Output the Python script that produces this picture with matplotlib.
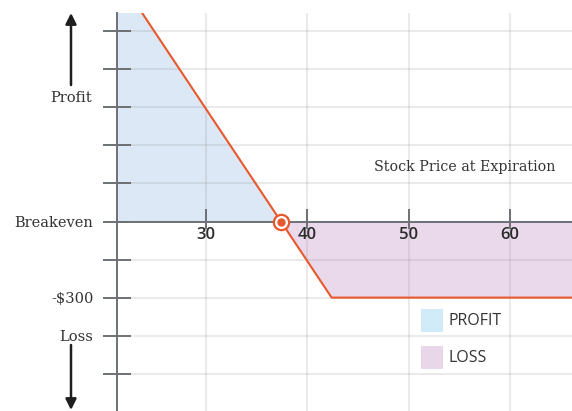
import matplotlib
matplotlib.use("Agg")
import matplotlib.pyplot as plt
from matplotlib.patches import Rectangle

# Long put payoff at expiration
price = [21.2, 37.4, 42.4, 66.2]          # stock price at expiration
pnl = [972, 0, -300, -300]                # profit / loss in dollars
breakeven = 37.4
max_loss = -300

x_ticks = [30, 40, 50, 60]
y_ticks = [-600, -450, -300, -150, 0, 150, 300, 450, 600, 750]
y_labels = {0: "Breakeven", -300: "-$300", -450: "Loss"}

line_color = "#e8582d"
profit_fill = "#dce8f5"
loss_fill = "#ead9eb"
legend_profit = "#d2ebf9"
legend_loss = "#e8d6e9"
axis_color = "#6d7074"
serif = "DejaVu Serif"

W, H = 572, 411
fig = plt.figure(figsize=(W / 100, H / 100), dpi=100)
ax = fig.add_axes([117 / W, 0, 1 - 117 / W, 1 - 13 / H])
ax.set_xlim(21.22, 66.12)
ax.set_ylim(-747, 822)

# shaded profit and loss zones
ax.fill_between(price, pnl, 0, where=[p >= 0 for p in pnl], interpolate=True,
                color=profit_fill, lw=0, zorder=1)
ax.fill_between(price, pnl, 0, where=[p <= 0 for p in pnl], interpolate=True,
                color=loss_fill, lw=0, zorder=1)

ax.plot(price, pnl, color=line_color, lw=1.5, zorder=3, solid_joinstyle="miter")

# breakeven marker
ax.plot([breakeven], [0], marker="o", ms=11, mfc="white", mec=line_color,
        mew=1.6, zorder=5, clip_on=False)
ax.plot([breakeven], [0], marker="o", ms=5, mfc=line_color, mec=line_color,
        zorder=6, clip_on=False)

# axes and grid
for side in ("top", "right"):
    ax.spines[side].set_visible(False)
ax.spines["bottom"].set_position(("data", 0))
ax.spines["left"].set_color(axis_color)
ax.spines["bottom"].set_color(axis_color)
ax.spines["left"].set_linewidth(1.4)
ax.spines["bottom"].set_linewidth(1.4)

ax.set_axisbelow("line")
ax.grid(True, color="#888888", alpha=0.17, lw=1.5)

ax.set_xticks(x_ticks)
ax.set_xticklabels([str(t) for t in x_ticks], fontfamily="Open Sans",
                   fontweight="semibold", fontsize=12, color="#2b2b2b")
ax.set_xticks(x_ticks, minor=True)
ax.xaxis.remove_overlapping_locs = False
ax.tick_params(axis="x", which="major", direction="in", length=9.5, width=1.4,
               color=axis_color, pad=4)
ax.tick_params(axis="x", which="minor", direction="out", length=5, width=1.4,
               color=axis_color, labelbottom=False)

ax.set_yticks(y_ticks)
ax.set_yticklabels([y_labels.get(t, "") for t in y_ticks], fontfamily=serif,
                   fontsize=10.5, color="#333333")
ax.tick_params(axis="y", direction="inout", length=20, width=1.4,
               color=axis_color, pad=7)

ax.text(64.44, 215, "Stock Price at Expiration", ha="right", va="center",
        fontfamily=serif, fontsize=10.3, color="#333333")

# profit / loss arrows beside the value axis
arrow_kw = dict(arrowstyle="-|>", color="#1e1e1e", lw=1.8, mutation_scale=16,
                shrinkA=0, shrinkB=0)
ax.annotate("", xy=(71, H - 13), xytext=(71, H - 85),
            xycoords="figure pixels", textcoords="figure pixels",
            arrowprops=arrow_kw, annotation_clip=False)
ax.annotate("", xy=(71, 1), xytext=(71, H - 345),
            xycoords="figure pixels", textcoords="figure pixels",
            arrowprops=arrow_kw, annotation_clip=False)
fig.text(71 / W, 1 - 98 / H, "Profit", ha="center", va="center",
         fontfamily=serif, fontsize=10.5, color="#333333")

# legend swatches
for top, label, col in [(309, "PROFIT", legend_profit), (346, "LOSS", legend_loss)]:
    fig.add_artist(Rectangle((421 / W, 1 - (top + 23) / H), 22 / W, 23 / H,
                             transform=fig.transFigure, color=col, lw=0))
    fig.text(448 / W, 1 - (top + 11.5) / H, label, ha="left", va="center",
             fontfamily="Open Sans", fontsize=11.5, color="#333333")

fig.savefig("out.png", dpi=100)
